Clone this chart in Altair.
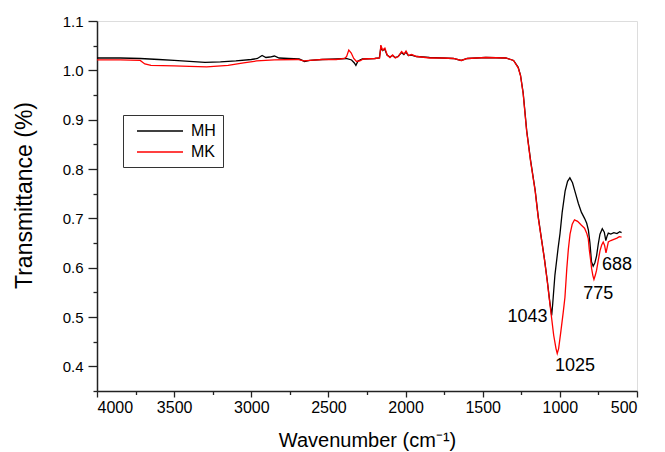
import altair as alt
import pandas as pd

# ---- data ----
mh_wn = [4000, 3850, 3720, 3600, 3500, 3400, 3300, 3200, 3100, 3000, 2960, 2930, 2905, 2880,
         2850, 2820, 2760, 2690, 2655, 2620, 2540, 2450, 2385, 2350, 2332, 2322, 2308, 2280,
         2200, 2170, 2160, 2150, 2135, 2120, 2102, 2085, 2068, 2048, 2027, 2011, 1998, 1982,
         1962, 1930, 1845, 1760, 1690, 1640, 1600, 1480, 1350, 1300, 1270, 1255, 1238, 1215,
         1190, 1160, 1140, 1118, 1100, 1082, 1065, 1053, 1046, 1032, 1012, 999, 985, 966, 950,
         935, 918, 898, 880, 860, 840, 826, 815, 805, 795, 784, 773, 762, 751, 740, 725, 712,
         702, 694, 686, 670, 650, 630, 612, 600]
mh_val = [1.025, 1.025, 1.024, 1.022, 1.020, 1.018, 1.016, 1.017, 1.019, 1.022, 1.024, 1.030,
          1.026, 1.027, 1.029, 1.025, 1.024, 1.023, 1.018, 1.020, 1.022, 1.023, 1.024, 1.021,
          1.015, 1.010, 1.019, 1.023, 1.024, 1.025, 1.047, 1.040, 1.043, 1.031, 1.027, 1.030,
          1.026, 1.028, 1.036, 1.032, 1.037, 1.030, 1.031, 1.028, 1.026, 1.025, 1.024, 1.020,
          1.024, 1.026, 1.025, 1.020, 1.006, 0.990, 0.955, 0.878, 0.818, 0.757, 0.703, 0.656,
          0.618, 0.575, 0.530, 0.503, 0.528, 0.585, 0.638, 0.669, 0.712, 0.755, 0.775, 0.782,
          0.772, 0.750, 0.730, 0.712, 0.700, 0.690, 0.676, 0.650, 0.612, 0.603, 0.610, 0.624,
          0.648, 0.668, 0.679, 0.672, 0.655, 0.664, 0.670, 0.668, 0.671, 0.669, 0.673, 0.671]

mk_wn = [4000, 3850, 3720, 3690, 3650, 3500, 3400, 3289, 3150, 3050, 2965, 2850, 2700, 2660,
         2620, 2540, 2450, 2395, 2382, 2368, 2352, 2336, 2318, 2296, 2274, 2200, 2168, 2160,
         2149, 2134, 2119, 2101, 2084, 2066, 2047, 2026, 2010, 1997, 1981, 1961, 1928, 1842,
         1760, 1690, 1638, 1600, 1480, 1350, 1300, 1270, 1255, 1238, 1215, 1190, 1160, 1140,
         1118, 1100, 1082, 1060, 1040, 1025, 1017, 1008, 993, 978, 967, 955, 945, 934, 920,
         905, 885, 860, 840, 826, 816, 809, 800, 794, 786, 779, 770, 762, 751, 740, 729, 719,
         710, 701, 694, 686, 670, 654, 630, 615, 600]
mk_val = [1.021, 1.021, 1.020, 1.013, 1.010, 1.009, 1.008, 1.007, 1.010, 1.015, 1.019, 1.021,
          1.022, 1.019, 1.020, 1.022, 1.022, 1.024, 1.028, 1.041, 1.035, 1.024, 1.018, 1.019,
          1.023, 1.024, 1.025, 1.051, 1.041, 1.045, 1.031, 1.026, 1.031, 1.025, 1.028, 1.038,
          1.033, 1.039, 1.030, 1.032, 1.028, 1.025, 1.025, 1.024, 1.020, 1.024, 1.026, 1.025,
          1.020, 1.005, 0.989, 0.953, 0.876, 0.816, 0.755, 0.701, 0.655, 0.617, 0.573, 0.515,
          0.463, 0.436, 0.426, 0.436, 0.472, 0.510, 0.540, 0.598, 0.637, 0.668, 0.688, 0.697,
          0.694, 0.686, 0.680, 0.670, 0.659, 0.636, 0.614, 0.598, 0.584, 0.576, 0.585, 0.595,
          0.615, 0.634, 0.646, 0.652, 0.645, 0.630, 0.640, 0.652, 0.655, 0.657, 0.660, 0.663,
          0.662]

ann_text = ["1043", "1025", "775", "688"]
ann_wn = [1210, 902, 751, 630]
ann_val = [0.500, 0.400, 0.547, 0.605]

x_major = [500, 1000, 1500, 2000, 2500, 3000, 3500, 4000]
x_minor = [750, 1250, 1750, 2250, 2750, 3250, 3750]
y_major = [0.4, 0.5, 0.6, 0.7, 0.8, 0.9, 1.0, 1.1]
y_minor = [0.35, 0.45, 0.55, 0.65, 0.75, 0.85, 0.95, 1.05]

# ---- tables ----
df = pd.concat([
    pd.DataFrame({"wn": mh_wn, "T": mh_val, "sample": "MH"}),
    pd.DataFrame({"wn": mk_wn, "T": mk_val, "sample": "MK"}),
], ignore_index=True)
ann = pd.DataFrame({"wn": ann_wn, "T": ann_val, "label": ann_text})

FONT = "Liberation Sans"
AX = "#222"

x_scale = alt.Scale(domain=[500, 4000], reverse=True, nice=False, zero=False)
y_scale = alt.Scale(domain=[0.35, 1.1], nice=False, zero=False)

x_axis = alt.Axis(
    orient="bottom", values=x_major, format="d", grid=False, tickSize=6,
    labelFontSize=16, labelFont=FONT, labelColor="#000", labelPadding=2,
    titleFontSize=20, titleFont=FONT, titleFontWeight="normal", titleColor="#000",
    titleBaseline="alphabetic", titleY=55,
    domainColor=AX, domainWidth=1.5, tickColor=AX, tickWidth=1.3, labelOverlap=False,
)
y_axis = alt.Axis(
    orient="left", values=y_major, format=".1f", grid=False, tickSize=9,
    labelFontSize=15, labelFont=FONT, labelColor="#000", labelPadding=5,
    titleFontSize=23, titleFont=FONT, titleFontWeight="normal", titleColor="#000",
    titleBaseline="middle", titleX=-73, titleY=174, titleAngle=-90,
    domainColor=AX, domainWidth=1.5, tickColor=AX, tickWidth=1.3, labelOverlap=False,
)
x_axis_minor = alt.Axis(
    orient="bottom", values=x_minor, labels=False, domain=False, grid=False,
    tickSize=3.5, tickColor=AX, tickWidth=1.3, title=None,
)
y_axis_minor = alt.Axis(
    orient="left", values=y_minor, labels=False, domain=False, grid=False,
    tickSize=4, tickColor=AX, tickWidth=1.3, title=None,
)

lines = alt.Chart(df).mark_line(strokeWidth=1.3, clip=True).encode(
    x=alt.X("wn:Q", scale=x_scale, axis=x_axis, title="Wavenumber (cm⁻¹)"),
    y=alt.Y("T:Q", scale=y_scale, axis=y_axis, title="Transmittance (%)"),
    color=alt.Color(
        "sample:N",
        scale=alt.Scale(domain=["MH", "MK"], range=["#000000", "#ff0000"]),
        legend=alt.Legend(
            title=None, orient="none", legendX=26, legendY=94,
            strokeColor="#333", fillColor="white", padding=7,
            symbolType="M-2.875,0H2.875", symbolSize=256, symbolStrokeWidth=1.5,
            symbolOffset=21,
            labelFontSize=16, labelFont=FONT, labelColor="#000", labelOffset=22,
            rowPadding=4,
        ),
    ),
)

labels = alt.Chart(ann).mark_text(
    fontSize=18, font=FONT, color="#000", align="center", baseline="middle"
).encode(
    x=alt.X("wn:Q", scale=x_scale, axis=x_axis_minor),
    y=alt.Y("T:Q", scale=y_scale, axis=y_axis_minor),
    text="label:N",
)

chart = alt.layer(lines, labels).resolve_axis(
    x="independent", y="independent"
).properties(
    width=540, height=370,
    autosize=alt.AutoSizeParams(type="none"),
    padding={"left": 97, "top": 21, "right": 28, "bottom": 61},
).configure_view(stroke=AX, strokeWidth=1.5).configure(background="white")

chart.save("out.html", embed_options={"renderer": "svg", "actions": False})
